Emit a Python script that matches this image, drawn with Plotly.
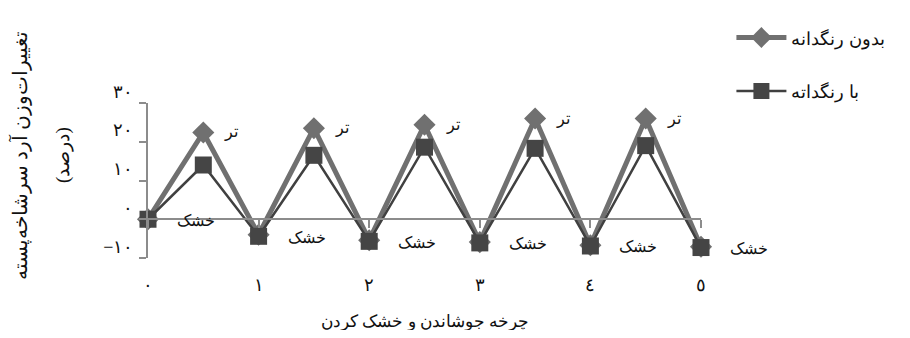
import plotly.graph_objects as go

# cycle position (half steps: dry -> wet -> dry ...)
cycle = [0, 0.5, 1, 1.5, 2, 2.5, 3, 3.5, 4, 4.5, 5]
stage = ["خشک", "تر", "خشک", "تر", "خشک", "تر", "خشک", "تر", "خشک", "تر", "خشک"]

no_pigment = [0, 22.4, -4.0, 23.5, -5.4, 24.4, -5.9, 26.0, -6.7, 26.0, -7.1]
with_pigment = [0, 14.0, -4.4, 16.5, -5.7, 18.6, -6.1, 18.3, -6.9, 19.0, -7.3]

x_ticks = [0, 1, 2, 3, 4, 5]
x_ticktext = ["۰", "۱", "۲", "۳", "٤", "٥"]
y_ticks = [-10, 0, 10, 20, 30]
y_ticktext = ["−۱۰", "۰", "۱۰", "۲۰", "۳۰"]

FONT = "Times New Roman, Liberation Serif, DejaVu Serif, serif"

fig = go.Figure()
fig.add_trace(go.Scatter(
    x=cycle, y=no_pigment, name="بدون رنگدانه", mode="lines+markers",
    line=dict(color="#707070", width=5),
    marker=dict(symbol="diamond", size=17, color="#707070"),
    cliponaxis=False, legendgroup="a"))
fig.add_trace(go.Scatter(
    x=cycle, y=with_pigment, name="با رنگداته", mode="lines+markers",
    line=dict(color="#404040", width=2.5),
    marker=dict(symbol="square", size=17, color="#454545"),
    cliponaxis=False, legendgroup="b"))

# stage labels next to each point
for xv, yv, yd, s in zip(cycle, with_pigment, no_pigment, stage):
    if s == "تر":
        fig.add_annotation(x=xv, y=yd, text=s, showarrow=False,
                           xshift=28, yshift=0, font=dict(size=16, color="#111"))
    else:
        fig.add_annotation(x=xv, y=yv, text=s, showarrow=False,
                           xshift=48, yshift=-1, font=dict(size=16, color="#111"))

fig.add_annotation(text="تغییرات‌وزن آرد سرشاخه‌پسته", textangle=-90,
                   xref="paper", yref="paper", x=-0.2315, y=0.667,
                   xanchor="center", yanchor="middle", showarrow=False,
                   font=dict(size=20, color="#111"))
fig.add_annotation(text="(درصد)", textangle=-90,
                   xref="paper", yref="paper", x=-0.155, y=0.667,
                   xanchor="center", yanchor="middle", showarrow=False,
                   font=dict(size=19, color="#111"))
fig.add_annotation(text="چرخه جوشاندن و خشک کردن",
                   xref="paper", yref="paper", x=0.5, y=-0.41,
                   xanchor="center", yanchor="middle", showarrow=False,
                   font=dict(size=17, color="#111"))

fig.update_layout(
    width=894, height=322,
    margin=dict(l=140, r=201, t=88, b=72),
    paper_bgcolor="white", plot_bgcolor="white",
    font=dict(family=FONT, size=16, color="#111"),
    showlegend=True,
    legend=dict(x=1.055, y=1.54, xanchor="left", yanchor="top",
                font=dict(size=18), tracegroupgap=27, itemwidth=50,
                bgcolor="rgba(0,0,0,0)"),
    xaxis=dict(range=[0, 5], tickvals=x_ticks, ticktext=x_ticktext,
               showgrid=False, zeroline=False, showline=False,
               ticks="", ticklabelstandoff=14, tickfont=dict(size=18),
               automargin=False),
    xaxis2=dict(range=[0, 5], overlaying="x", anchor="free", position=0.25,
                side="bottom", showline=True, linecolor="#8c8c8c", linewidth=2,
                ticks="outside", tickvals=x_ticks, ticklen=8, tickwidth=2,
                tickcolor="#8c8c8c", showticklabels=False, showgrid=False,
                zeroline=False, automargin=False),
    yaxis=dict(range=[-10, 30], tickvals=y_ticks,
               ticktext=[t + "<br>&nbsp;" for t in y_ticktext],
               showgrid=False, zeroline=False, showline=True,
               linecolor="#8c8c8c", linewidth=2, ticks="outside", ticklen=7,
               tickwidth=2, tickcolor="#8c8c8c", ticklabelstandoff=2,
               tickfont=dict(size=18), automargin=False),
)
# invisible trace so the zero-level axis is drawn
fig.add_trace(go.Scatter(x=[0, 5], y=[0, 0], xaxis="x2", mode="none",
                         showlegend=False, hoverinfo="skip"))

fig.write_html("out.html")
